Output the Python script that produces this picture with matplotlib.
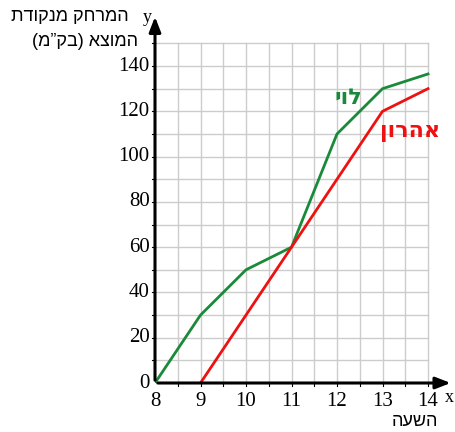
import matplotlib
matplotlib.use("Agg")
import matplotlib.pyplot as plt
import numpy as np

# Data
levi_x = [8, 9, 10, 11, 12, 13, 14]
levi_y = [0, 30, 50, 60, 110, 130, 136.5]
aharon_x = [9, 11, 13, 14]
aharon_y = [0, 60, 120, 130]
xticks = [8, 9, 10, 11, 12, 13, 14]
yticks = [0, 20, 40, 60, 80, 100, 120, 140]

def heb(s):
    r = s[::-1]
    return r.translate(str.maketrans("()", ")("))

W, H = 455, 432
fig = plt.figure(figsize=(W/100, H/100), dpi=100)
ax = fig.add_axes([155/W, (H-383)/H, (453-155)/W, (383-15)/H])
ax.set_xlim(8, 8 + (453-155)/45.5)
ax.set_ylim(0, (383-15)/2.264)
for s in ax.spines.values():
    s.set_visible(False)
ax.set_xticks([])
ax.set_yticks([])
ax.patch.set_alpha(0)

grid_c = "#cccccc"
for gx in np.arange(8.5, 14.01, 0.5):
    ax.plot([gx, gx], [0, 150], color=grid_c, lw=1, zorder=1)
    ax.plot([gx, gx], [0, -1.5], color="black", lw=0.8, zorder=1, clip_on=False)
for gy in np.arange(10, 150.1, 10):
    ax.plot([8, 14], [gy, gy], color=grid_c, lw=1, zorder=1)
    ax.plot([8, 7.93], [gy, gy], color="black", lw=0.8, zorder=1, clip_on=False)

# axes arrows
ax.annotate("", xy=(14.56, 0), xytext=(8, 0),
            arrowprops=dict(arrowstyle="-|>,head_length=0.9,head_width=0.35", color="black", lw=2.2),
            annotation_clip=False, zorder=5)
ax.annotate("", xy=(8, 163), xytext=(8, 0),
            arrowprops=dict(arrowstyle="-|>,head_length=0.9,head_width=0.35", color="black", lw=2.2),
            annotation_clip=False, zorder=5)

ax.plot(levi_x, levi_y, color="#1a8a3a", lw=2, zorder=3)
ax.plot(aharon_x, aharon_y, color="#ee1111", lw=2, zorder=3)

serif = "Liberation Serif"
for t in xticks:
    ax.text(t, -4, str(t), ha="center", va="top", fontsize=15, family=serif)
for t in yticks:
    ax.text(7.88, t, str(t), ha="right", va="center", fontsize=15, family=serif)

fig.text(454/W, 1 - 398/H, "x", ha="right", va="center", fontsize=13, family=serif)
fig.text(152/W, 1 - 17/H, "y", ha="right", va="center", fontsize=13, family=serif)

sans = "Liberation Sans"
fig.text(129/W, 1 - 17/H, heb("המרחק מנקודת"), ha="right", va="center", fontsize=13, family=sans)
fig.text(138/W, 1 - 42/H, heb("המוצא (בק”מ)"), ha="right", va="center", fontsize=13, family=sans)
fig.text(438/W, 1 - 422/H, heb("השעה"), ha="right", va="center", fontsize=13, family=sans)

ax.text(12.25, 126, heb("לוי"), color="#1a8a3a", fontsize=16, fontweight="bold", family="DejaVu Sans", ha="center", va="center")
ax.text(13.6, 111, heb("אהרון"), color="#ee1111", fontsize=16, fontweight="bold", family="DejaVu Sans", ha="center", va="center")

fig.savefig("out.png", dpi=100)
